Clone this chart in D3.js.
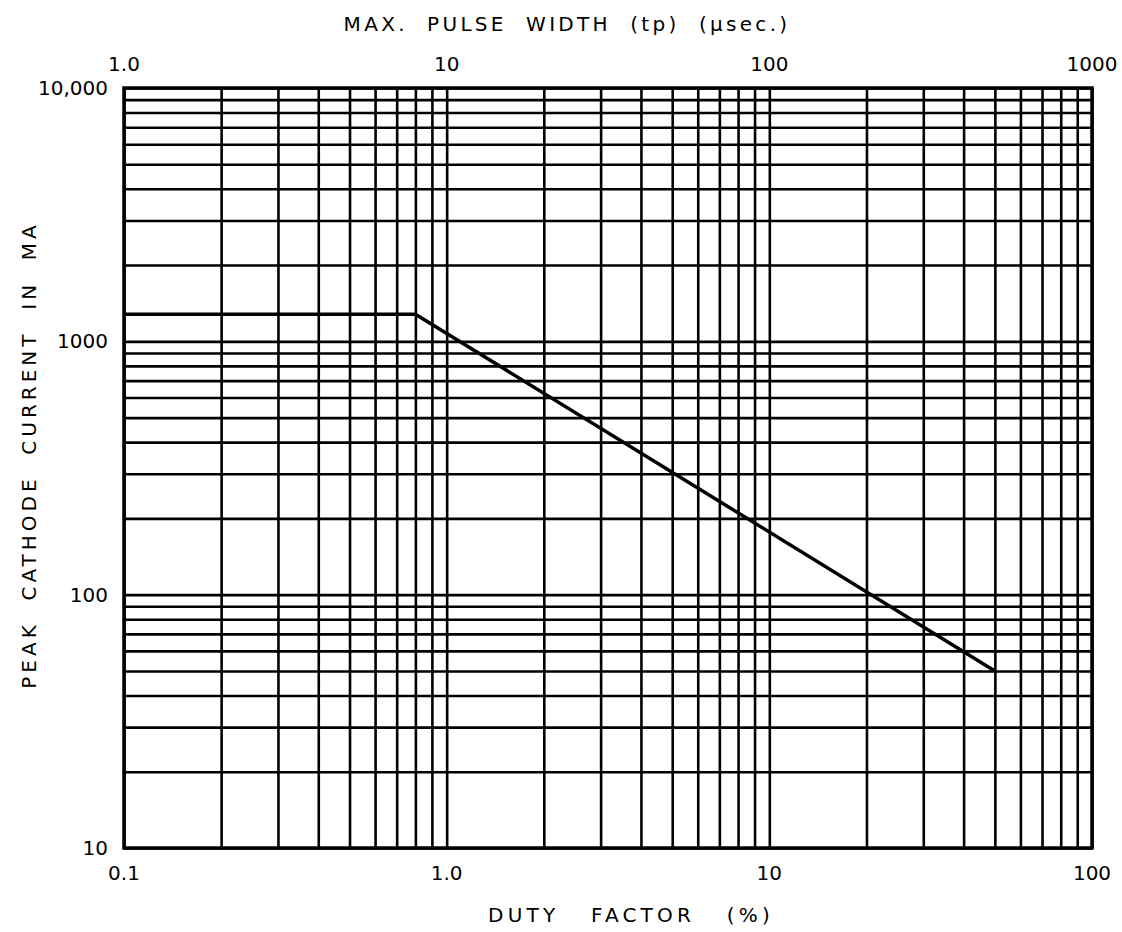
<!DOCTYPE html>
<html>
<head>
<meta charset="utf-8">
<script src="https://cdn.jsdelivr.net/npm/d3@7"></script>
<style>
  body { margin: 0; background: #fff; }
  text { font-family: "DejaVu Sans", sans-serif; fill: #000; }
  .grid line { stroke: #000; stroke-width: 2.6; }
  .grid path { display: none; }
</style>
</head>
<body>
<div id="chart"></div>
<script>
// values
var dutyFactor = [0.1, 0.8, 50];          // %
var peakCurrent = [1280, 1280, 50];       // mA
var xTickValues = [0.1, 1, 10, 100];
var xTickLabels = ["0.1", "1.0", "10", "100"];
var topTickLabels = ["1.0", "10", "100", "1000"];   // pulse width (usec)
var yTickValues = [10, 100, 1000, 10000];
var yTickLabels = ["10", "100", "1000", "10,000"];

var width = 1122, height = 932;
var plotLeft = 124, plotRight = 1092, plotTop = 88, plotBottom = 848;

var svg = d3.select("#chart").append("svg")
    .attr("width", width)
    .attr("height", height);

var x = d3.scaleLog().domain([0.1, 100]).range([plotLeft, plotRight]);
var y = d3.scaleLog().domain([10, 10000]).range([plotBottom, plotTop]);

// grid lines at 1..9 in every decade
svg.append("g")
    .attr("class", "grid")
    .attr("transform", "translate(0," + plotBottom + ")")
    .call(d3.axisBottom(x).ticks(30).tickSize(-(plotBottom - plotTop)).tickFormat(""));

svg.append("g")
    .attr("class", "grid")
    .attr("transform", "translate(" + plotLeft + ",0)")
    .call(d3.axisLeft(y).ticks(30).tickSize(-(plotRight - plotLeft)).tickFormat(""));

// frame
svg.append("rect")
    .attr("x", plotLeft).attr("y", plotTop)
    .attr("width", plotRight - plotLeft).attr("height", plotBottom - plotTop)
    .attr("fill", "none").attr("stroke", "#000").attr("stroke-width", 3.5);

// rating curve
var line = d3.line()
    .x(function (d, i) { return x(dutyFactor[i]); })
    .y(function (d, i) { return y(peakCurrent[i]); });

svg.append("path")
    .datum(dutyFactor)
    .attr("d", line)
    .attr("fill", "none")
    .attr("stroke", "#000")
    .attr("stroke-width", 3.5);

// tick labels
svg.selectAll(".xlab")
    .data(xTickValues)
    .enter().append("text")
    .attr("x", function (d) { return x(d); })
    .attr("y", 880)
    .attr("text-anchor", "middle")
    .style("font-size", "20px")
    .text(function (d, i) { return xTickLabels[i]; });

svg.selectAll(".toplab")
    .data(xTickValues)
    .enter().append("text")
    .attr("x", function (d) { return x(d); })
    .attr("y", 71)
    .attr("text-anchor", "middle")
    .style("font-size", "20px")
    .text(function (d, i) { return topTickLabels[i]; });

svg.selectAll(".ylab")
    .data(yTickValues)
    .enter().append("text")
    .attr("x", 108)
    .attr("y", function (d) { return y(d) + 7; })
    .attr("text-anchor", "end")
    .style("font-size", "20px")
    .text(function (d, i) { return yTickLabels[i]; });

// axis titles
svg.append("text")
    .attr("x", 567)
    .attr("y", 31)
    .attr("text-anchor", "middle")
    .style("font-size", "20px")
    .style("letter-spacing", "3.3px")
    .style("white-space", "pre")
    .text("MAX.  PULSE  WIDTH  (tp)  (\u00b5sec.)");

svg.append("text")
    .attr("x", 631)
    .attr("y", 922)
    .attr("text-anchor", "middle")
    .style("font-size", "20px")
    .style("letter-spacing", "4.2px")
    .style("white-space", "pre")
    .text("DUTY   FACTOR   (%)");

svg.append("text")
    .attr("transform", "translate(36,455) rotate(-90)")
    .attr("text-anchor", "middle")
    .style("font-size", "20px")
    .style("letter-spacing", "4px")
    .style("white-space", "pre")
    .text("PEAK  CATHODE  CURRENT  IN  MA");
</script>
</body>
</html>
